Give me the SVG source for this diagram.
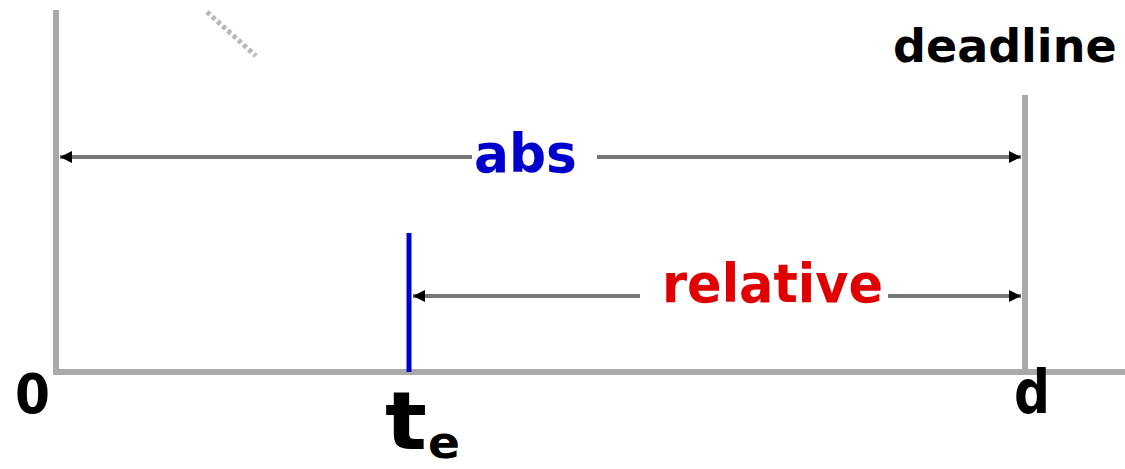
<svg xmlns="http://www.w3.org/2000/svg" width="1125" height="469" viewBox="0 0 1125 469">
<style>
.axis{stroke:#aaaaaa;stroke-width:6;fill:none}
.conn{stroke:#777777;stroke-width:4;fill:none}
.lbl{font-family:"DejaVu Sans",sans-serif;font-weight:bold}
</style>
<defs>
<marker id="ah" viewBox="0 0 10 10" refX="10" refY="5" markerWidth="3" markerHeight="3" orient="auto-start-reverse" markerUnits="strokeWidth">
<path d="M0,0 L10,5 L0,10 z" fill="#000"/>
</marker>
</defs>
<rect width="1125" height="469" fill="#fff"/>
<g id="axes">
<line class="axis" x1="56" y1="10" x2="56" y2="372"/>
<line class="axis" x1="53" y1="372" x2="1125" y2="372"/>
<line class="axis" x1="1025" y1="95" x2="1025" y2="372"/>
</g>
<g id="te-marker">
<line x1="409" y1="233" x2="409" y2="372" stroke="#0000cc" stroke-width="5"/>
</g>
<g id="scribble">
<path d="M207,12 L256,56" stroke="#888" stroke-width="5" stroke-dasharray="4 3" opacity="0.6" fill="none"/>
</g>
<g id="connectors">
<line class="conn" x1="472" y1="157" x2="60" y2="157" marker-end="url(#ah)"/>
<line class="conn" x1="597" y1="157" x2="1021" y2="157" marker-end="url(#ah)"/>
<line class="conn" x1="640" y1="296" x2="413" y2="296" marker-end="url(#ah)"/>
<line class="conn" x1="888" y1="296" x2="1021" y2="296" marker-end="url(#ah)"/>
</g>
<g id="label-abs"><text class="lbl" x="474" y="172" font-size="54" fill="#0000cc" textLength="103" lengthAdjust="spacingAndGlyphs">abs</text></g>
<g id="label-relative"><text class="lbl" x="662" y="302" font-size="54" fill="#e00000" textLength="221" lengthAdjust="spacingAndGlyphs">relative</text></g>
<g id="label-deadline"><text class="lbl" x="893" y="62" font-size="46" fill="#000">deadline</text></g>
<g id="label-0"><text class="lbl" x="15" y="413" font-size="56" fill="#000" textLength="35" lengthAdjust="spacingAndGlyphs">0</text></g>
<g id="label-d"><text class="lbl" x="1014" y="413" font-size="60" fill="#000" textLength="36" lengthAdjust="spacingAndGlyphs">d</text></g>
<g id="label-te"><text class="lbl" x="385" y="449" font-size="80" fill="#000" textLength="42" lengthAdjust="spacingAndGlyphs">t</text><text class="lbl" x="428" y="458" font-size="44" fill="#000" textLength="32" lengthAdjust="spacingAndGlyphs">e</text></g>
</svg>
